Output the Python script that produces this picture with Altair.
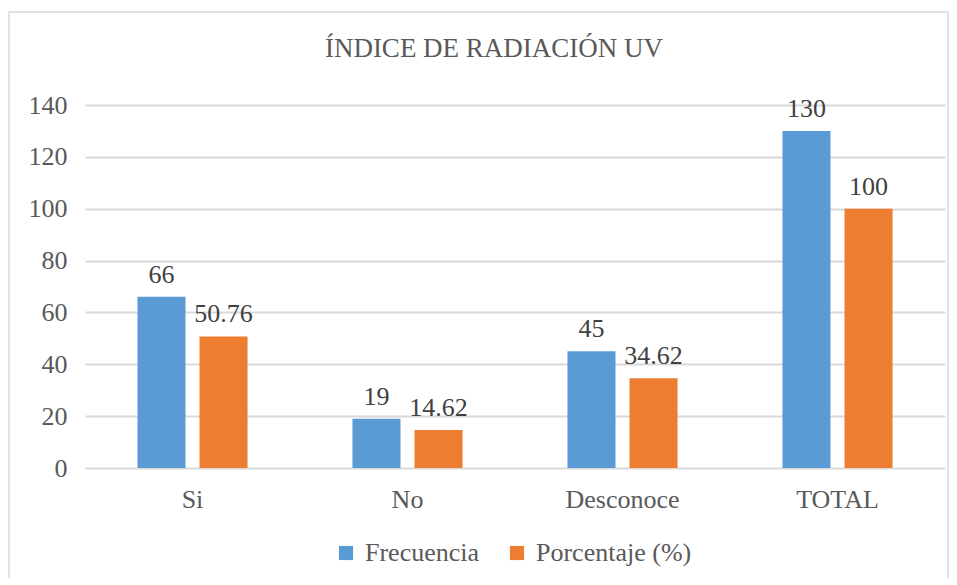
import altair as alt
import pandas as pd

categories = ["Si", "No", "Desconoce", "TOTAL"]
frecuencia = [66, 19, 45, 130]
porcentaje = [50.76, 14.62, 34.62, 100]
series_names = ["Frecuencia", "Porcentaje (%)"]
labels_frec = ["66", "19", "45", "130"]
labels_pct = ["50.76", "14.62", "34.62", "100"]
y_ticks = [0, 20, 40, 60, 80, 100, 120, 140]
title_text = "ÍNDICE DE RADIACIÓN UV"

rows = []
for c, f, p, lf, lp in zip(categories, frecuencia, porcentaje, labels_frec, labels_pct):
    rows.append({"cat": c, "serie": series_names[0], "valor": f, "etiqueta": lf})
    rows.append({"cat": c, "serie": series_names[1], "valor": p, "etiqueta": lp})
df = pd.DataFrame(rows)

FONT = "Liberation Serif"
GREY = "#595959"
FS = 26
W, H = 860, 363
PL, PT = 77, 97

xscale = alt.Scale(paddingInner=0.488, paddingOuter=0.244)
xoff = alt.Scale(paddingInner=0.226, paddingOuter=0)
color = alt.Scale(domain=series_names, range=["#5B9BD5", "#ED7D31"])

base = alt.Chart(df).encode(
    x=alt.X("cat:N", sort=categories, scale=xscale,
            axis=alt.Axis(title=None, labelAngle=0, ticks=False, domain=False,
                          labelFont=FONT, labelFontSize=FS, labelColor=GREY,
                          labelPadding=18)),
    xOffset=alt.XOffset("serie:N", sort=series_names, scale=xoff),
    y=alt.Y("valor:Q", scale=alt.Scale(domain=[0, 140]),
            axis=alt.Axis(title=None, values=y_ticks, ticks=False, domain=False,
                          labelFont=FONT, labelFontSize=FS, labelColor=GREY,
                          labelPadding=18, gridColor="#d9d9d9", gridWidth=2)),
)

bars = base.mark_bar().encode(
    color=alt.Color("serie:N", scale=color, sort=series_names,
                    legend=alt.Legend(title=None, orient="none", direction="horizontal",
                                      legendX=248, legendY=435,
                                      symbolType="square", symbolSize=200,
                                      symbolStrokeWidth=0,
                                      labelFont=FONT, labelFontSize=FS, labelColor=GREY,
                                      columnPadding=24, labelOffset=6, labelLimit=300))
)

texts = base.mark_text(baseline="alphabetic", dy=-14, font=FONT, fontSize=FS, color="#404040").encode(
    text="etiqueta:N"
)

title_df = pd.DataFrame({"t": [title_text]})
title = alt.Chart(title_df).mark_text(font=FONT, fontSize=27, color=GREY, baseline="alphabetic").encode(
    text="t:N", x=alt.value(409), y=alt.value(-48)
)

border = alt.Chart(title_df).mark_rect(fill=None, stroke="#d9d9d9", strokeWidth=1.5).encode(
    x=alt.value(-PL + 1), x2=alt.value(W + 3), y=alt.value(-PT + 4), y2=alt.value(H + 120)
)

chart = alt.layer(border, bars, texts, title).properties(
    width=W, height=H,
    autosize=alt.AutoSizeParams(type="none"),
    padding={"left": PL, "top": PT, "right": 4, "bottom": 110},
).configure_view(stroke=None)

chart.save("out.html", embed_options={"renderer": "svg", "actions": False})
